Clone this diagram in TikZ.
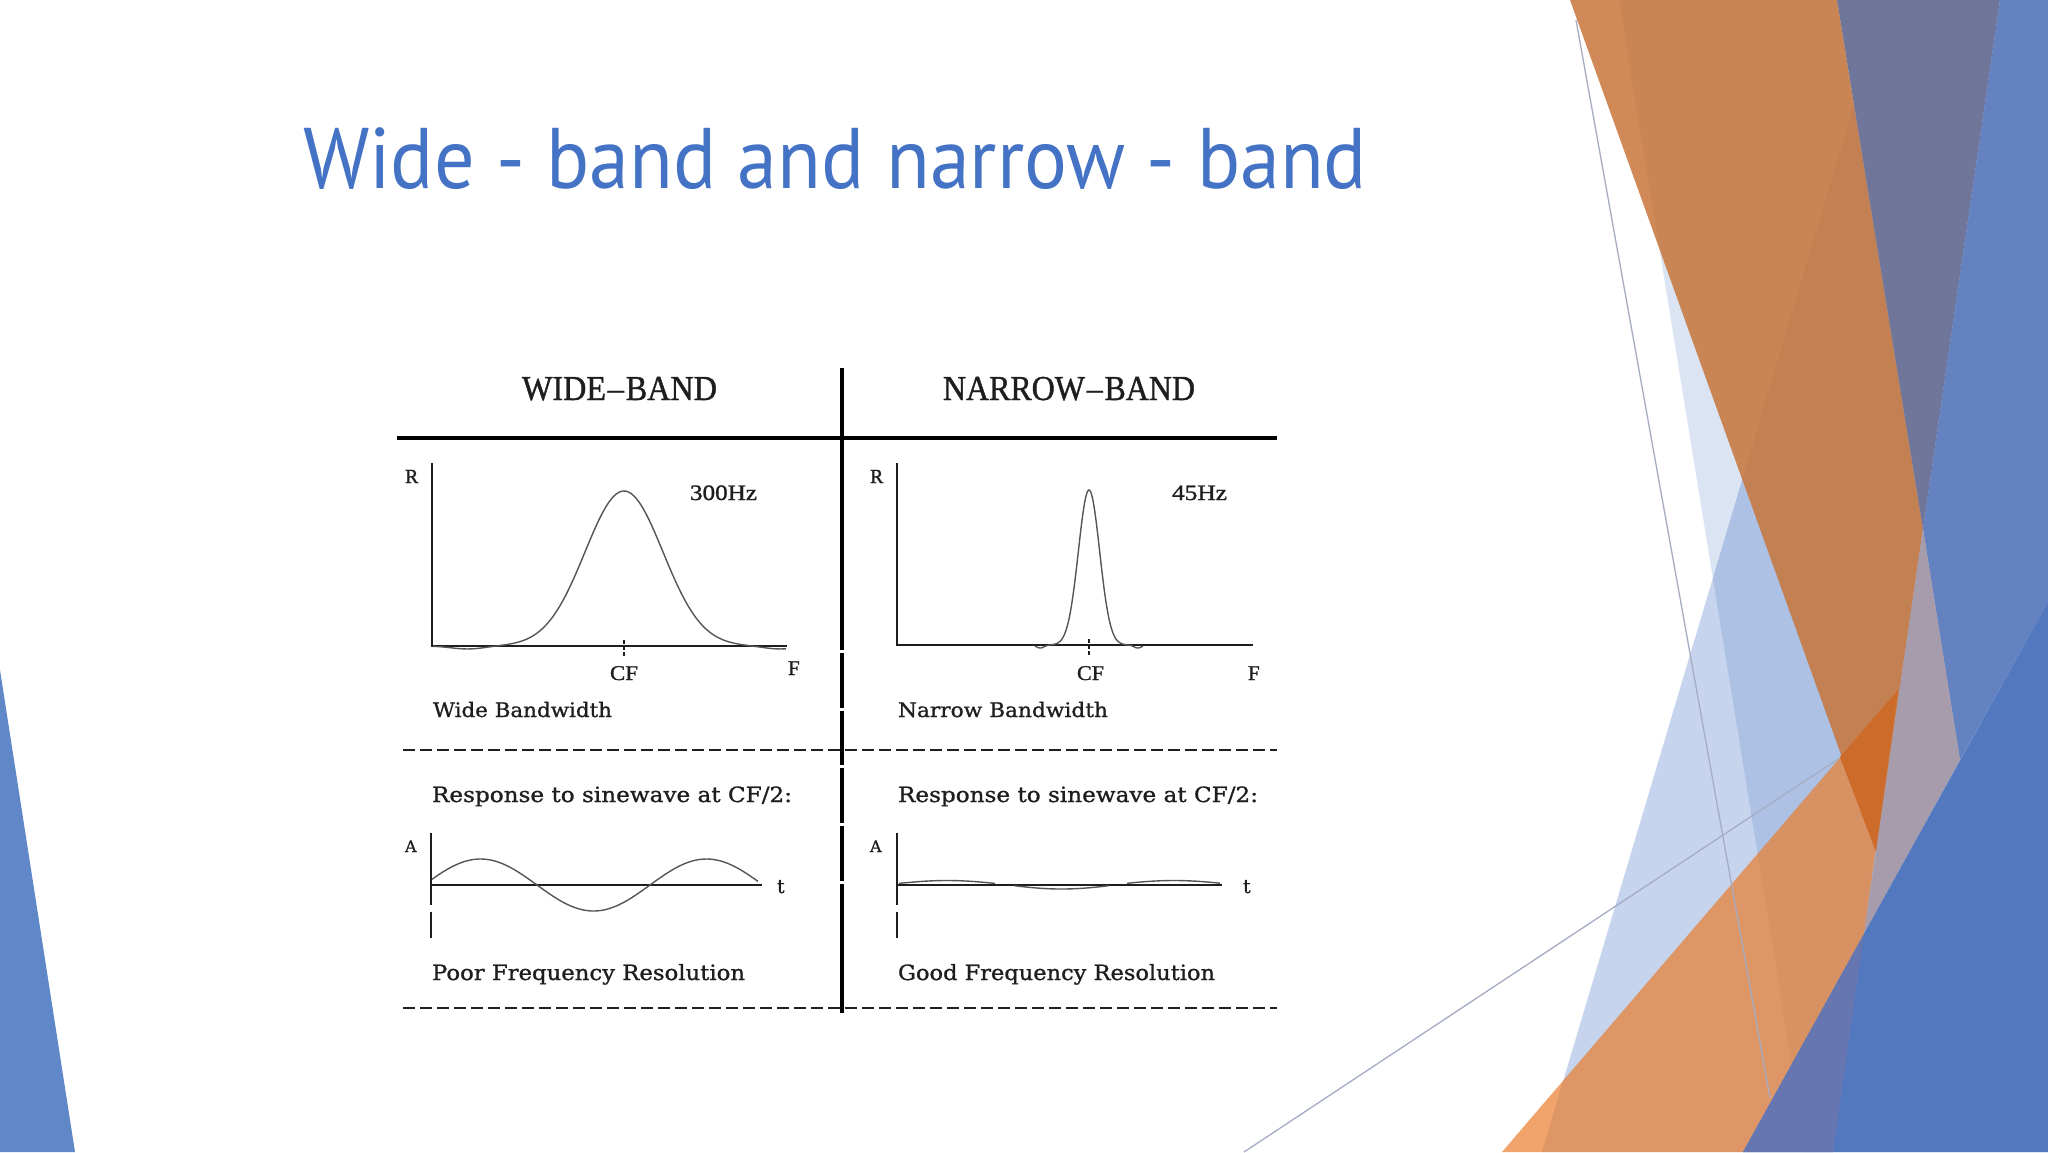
\documentclass[tikz,border=0pt]{standalone}
\usepackage{fontspec}
\usepackage{graphicx}
\setmainfont{Liberation Serif}[FakeBold=1.2]
\newfontfamily\titlefont{PT Sans}
\newfontfamily\dotfont{DejaVu Serif}[FakeBold=1.0]
\definecolor{ttl}{RGB}{68,114,196}
\definecolor{ink}{RGB}{30,30,30}
\definecolor{curvecol}{RGB}{85,85,85}
\definecolor{accblue}{RGB}{68,114,196}
\definecolor{orgA}{RGB}{200,117,58}
\definecolor{orgB}{RGB}{234,125,45}
\definecolor{orgDark}{RGB}{205,107,42}
\definecolor{greyPurple}{RGB}{112,117,154}
\definecolor{blueStrip}{RGB}{101,130,192}
\definecolor{pinkGrey}{RGB}{166,156,172}
\definecolor{blueTri}{RGB}{82,120,192}
\definecolor{blueTriL}{RGB}{102,118,176}
\definecolor{leftBlue}{RGB}{96,136,200}
\definecolor{thinLine}{RGB}{165,172,196}
\newcommand{\fw}[2]{\resizebox{#1bp}{\height}{#2}}
\begin{document}
\begin{tikzpicture}[x=1bp,y=-1bp]
\tikzset{
  txt/.style={inner sep=0pt, outer sep=0pt, anchor=base west, text=ink},
  axisline/.style={draw=ink, line width=1.4bp},
  curve/.style={draw=curvecol, line width=1.4bp},
  sepline/.style={draw=ink, line width=1.6bp, dash pattern=on 12bp off 5bp},
  heavy/.style={draw=black, line width=3.2bp},
  thin/.style={draw=thinLine, line width=1.3bp},
}
\useasboundingbox (0,0) rectangle (2048,1152);
\fill[white] (0,0) rectangle (2048,1152);

% ---------- decoration left ----------
\fill[leftBlue] (0,670) -- (75,1152) -- (0,1152) -- cycle;

% ---------- decoration right ----------
\fill[accblue, opacity=0.19] (1619,0) -- (2048,0) -- (2048,1152) -- (1806,1152) -- cycle;
\fill[accblue, opacity=0.30] (1885,0) -- (2048,0) -- (2048,1152) -- (1542,1152) -- cycle;
\fill[orgA, opacity=0.85] (1570,0) -- (1837,0) -- (1923,529) -- (1876,852) -- cycle;
\fill[orgB, opacity=0.70] (1502,1152) -- (1898,690) -- (1864,934) -- (1743,1152) -- cycle;
\fill[orgDark] (1840,757) -- (1898,690) -- (1876,852) -- cycle;
\fill[greyPurple] (1837,0) -- (2000,0) -- (1923,529) -- cycle;
\fill[blueStrip] (2000,0) -- (2048,0) -- (2048,602) -- (1960,760) -- (1923,529) -- cycle;
\fill[pinkGrey] (1923,529) -- (1960,760) -- (1864,934) -- cycle;
\fill[blueTri] (1743,1152) -- (2048,602) -- (2048,1152) -- cycle;
\fill[blueTriL] (1743,1152) -- (1864,934) -- (1833,1152) -- cycle;
\draw[thin] (1576,20) -- (1770,1098);
\draw[thin] (1244,1152) -- (1838,759);

% ---------- title ----------
\node[txt, text=ttl] (title) at (303,188)
  {\titlefont\fontsize{86bp}{90bp}\selectfont\fw{1064}{Wide - band and narrow - band}};

% ---------- table frame ----------
\draw[heavy] (397,438) -- (1277,438);
\draw[heavy] (842,368) -- (842,650) (842,653) -- (842,708) (842,711) -- (842,765)
             (842,768) -- (842,823) (842,826) -- (842,881) (842,884) -- (842,1013);
\draw[sepline] (403,750) -- (1277,750);
\draw[sepline] (403,1008) -- (1277,1008);

\node[txt] (hwide) at (522,400) {\fontsize{35bp}{40bp}\selectfont\fw{195}{WIDE\kern2bp\textendash\kern2bp BAND}};
\node[txt] (hnarrow) at (943,400) {\fontsize{35bp}{40bp}\selectfont\fw{252}{NARROW\kern2bp\textendash\kern2bp BAND}};

% ---------- wide-band response ----------
\draw[axisline] (432,463) -- (432,646) -- (787,646);
\draw[curve] plot[domain=433:786, samples=140, smooth]
  (\x, {646 - 155*exp(-((\x-624)/39)^2/2) + 3*exp(-((abs(\x-624)/39-4.0)/0.6)^2)});
\draw[draw=ink, line width=1.2bp, dash pattern=on 4bp off 2bp] (624,640) -- (624,656);
\node[txt] (rwide) at (405,483) {\fontsize{20bp}{24bp}\selectfont R};
\node[txt] (hz300) at (690,500) {\fontsize{22bp}{26bp}\selectfont\fw{67}{300Hz}};
\node[txt] (cfwide) at (610,680) {\fontsize{21bp}{25bp}\selectfont\fw{28}{CF}};
\node[txt] (fwide) at (788,675) {\fontsize{21bp}{25bp}\selectfont F};
\node[txt] (bwwide) at (433,717) {\dotfont\fontsize{20bp}{24bp}\selectfont\fw{179}{Wide Bandwidth}};

% ---------- narrow-band response ----------
\draw[axisline] (897,463) -- (897,645) -- (1253,645);
\draw[curve] plot[domain=1035:1143, samples=120, smooth]
  (\x, {645 - 155*exp(-((\x-1089)/10.6)^2/2) + 3*exp(-((abs(\x-1089)/10.6-4.6)/0.5)^2)});
\draw[draw=ink, line width=1.2bp, dash pattern=on 4bp off 2bp] (1089,639) -- (1089,655);
\node[txt] (rnarrow) at (870,483) {\fontsize{20bp}{24bp}\selectfont R};
\node[txt] (hz45) at (1172,500) {\fontsize{22bp}{26bp}\selectfont\fw{55}{45Hz}};
\node[txt] (cfnarrow) at (1077,680) {\fontsize{21bp}{25bp}\selectfont\fw{27}{CF}};
\node[txt] (fnarrow) at (1248,680) {\fontsize{21bp}{25bp}\selectfont F};
\node[txt] (bwnarrow) at (898,717) {\dotfont\fontsize{20bp}{24bp}\selectfont\fw{210}{Narrow Bandwidth}};

% ---------- sinewave responses ----------
\node[txt] (respwide) at (432,802) {\dotfont\fontsize{21bp}{25bp}\selectfont\fw{360}{Response to sinewave at CF/2:}};
\node[txt] (respnarrow) at (898,802) {\dotfont\fontsize{21bp}{25bp}\selectfont\fw{360}{Response to sinewave at CF/2:}};

\draw[axisline] (431,833) -- (431,905) (431,912) -- (431,938);
\draw[axisline] (431,885) -- (762,885);
\draw[curve] plot[domain=432:758, samples=120, smooth] (\x, {885 - 26*sin(1.5929*(537-\x))});
\node[txt] (awide) at (405,852) {\dotfont\fontsize{16bp}{20bp}\selectfont A};
\node[txt] (twide) at (777,893) {\dotfont\fontsize{19bp}{24bp}\selectfont t};

\draw[axisline] (897,833) -- (897,905) (897,912) -- (897,938);
\draw[axisline] (897,885) -- (1222,885);
\draw[curve] plot[domain=899:995, samples=40, smooth] (\x, {884 - 3.5*sin(1.6667*(\x-893))});
\draw[curve] plot[domain=1015:1108, samples=40, smooth] (\x, {885 + 4*sin(1.6822*(\x-1008))});
\draw[curve] plot[domain=1127:1220, samples=40, smooth] (\x, {884 - 3.5*sin(1.6667*(\x-1120))});
\node[txt] (anarrow) at (870,852) {\dotfont\fontsize{16bp}{20bp}\selectfont A};
\node[txt] (tnarrow) at (1243,893) {\dotfont\fontsize{19bp}{24bp}\selectfont t};

\node[txt] (poor) at (432,980) {\dotfont\fontsize{21bp}{25bp}\selectfont\fw{313}{Poor Frequency Resolution}};
\node[txt] (good) at (898,980) {\dotfont\fontsize{21bp}{25bp}\selectfont\fw{317}{Good Frequency Resolution}};
\end{tikzpicture}
\end{document}
